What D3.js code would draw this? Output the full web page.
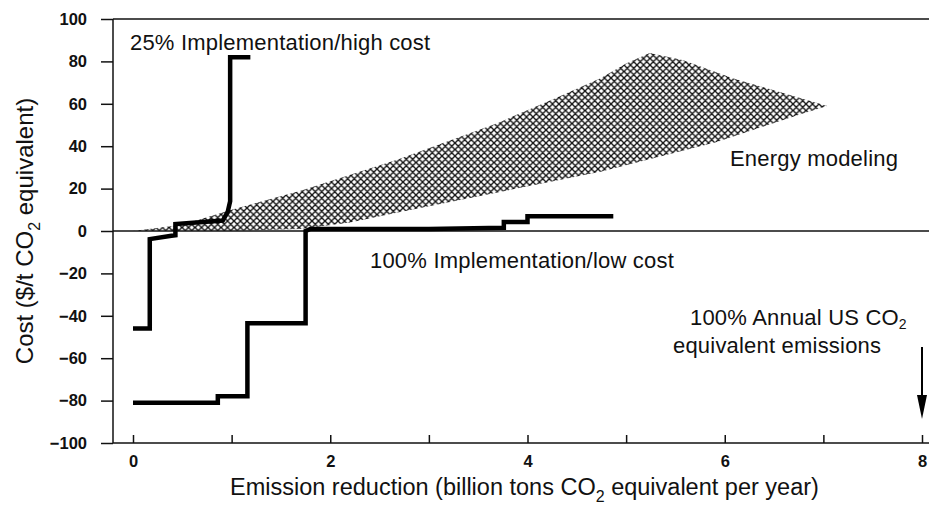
<!DOCTYPE html>
<html>
<head>
<meta charset="utf-8">
<script src="https://cdn.jsdelivr.net/npm/d3@7"></script>
<style>
  html, body { margin: 0; padding: 0; background: #fff; }
  svg { display: block; font-family: "Liberation Sans", Arial, Helvetica, sans-serif; }
</style>
</head>
<body>
<svg id="chart" width="931" height="506"></svg>
<script>
// Cost curves for CO2-equivalent emission reduction (corner points of each step curve)
const lowCostX  = [0, 0.86, 0.86, 1.16, 1.16, 1.75, 1.75, 1.8, 3.0, 3.76, 3.76, 4.0, 4.0, 4.87];
const lowCostY  = [-81, -81, -78, -78, -43.5, -43.5, 0, 1, 1, 1.5, 4.3, 4.3, 7, 7];

const highCostX = [0, 0.17, 0.17, 0.39, 0.43, 0.43, 0.91, 0.96, 0.985, 0.985, 1.19];
const highCostY = [-46, -46, -3.8, -2.2, -2, 3.3, 4.9, 9, 14, 82, 82];

// Energy-modeling band: upper and lower edges
const energyUpperX = [0, 0.5, 1.0, 1.7, 2.7, 3.7, 4.3, 4.74, 5.0, 5.24, 5.58, 6.08, 6.6, 7.04];
const energyUpperY = [0, 3, 10, 19, 34, 51, 63, 72, 79, 84, 80.5, 72, 65, 59];
const energyLowerX = [0, 1.0, 1.7, 2.2, 2.71, 3.72, 4.74, 5.92, 6.76, 7.04];
const energyLowerY = [0, 0, 1, 4, 9, 18.4, 28, 42, 55, 59];

// Axis ticks
const xTicks = [0, 1, 2, 3, 4, 5, 6, 7, 8];
const xTickLabels = ["0", "", "2", "", "4", "", "6", "", "8"];
const yTicks = [-100, -80, -60, -40, -20, 0, 20, 40, 60, 80, 100];

// Total annual US emissions marker
const usTotalEmissions = 8;

const svg = d3.select("#chart");

const x = d3.scaleLinear().domain([0, 8]).range([133, 922]);
const y = d3.scaleLinear().domain([-100, 100]).range([443, 19]);

const axisLeftX = 113, axisRightX = 929;

// cross-hatch pattern for the energy-modeling band
const defs = svg.append("defs");
const pat = defs.append("pattern")
  .attr("id", "crosshatch")
  .attr("patternUnits", "userSpaceOnUse")
  .attr("width", 6.5).attr("height", 6.5);
pat.append("path")
  .attr("d", "M0,0L6.5,6.5M6.5,0L0,6.5M-1,5.5L1,7.5M5.5,-1L7.5,1M-1,1L1,-1M5.5,7.5L7.5,5.5")
  .attr("stroke", "#111")
  .attr("stroke-width", 1.35)
  .attr("fill", "none");

const bandPts = energyUpperX.map((d, i) => [d, energyUpperY[i]])
  .concat(energyLowerX.map((d, i) => [d, energyLowerY[i]]).reverse());

svg.append("path")
  .datum(bandPts)
  .attr("d", d3.line().x(d => x(d[0])).y(d => y(d[1])).curve(d3.curveLinearClosed))
  .attr("fill", "url(#crosshatch)")
  .attr("stroke", "none");

// frame: top rule, zero line
svg.append("line")
  .attr("x1", axisLeftX).attr("x2", axisRightX)
  .attr("y1", y(100)).attr("y2", y(100))
  .attr("stroke", "#111").attr("stroke-width", 1.5);
svg.append("line")
  .attr("x1", axisLeftX).attr("x2", axisRightX)
  .attr("y1", y(0)).attr("y2", y(0))
  .attr("stroke", "#111").attr("stroke-width", 1.5);

// y axis
const yAxis = svg.append("g")
  .attr("transform", `translate(${axisLeftX},0)`)
  .call(d3.axisLeft(y).tickValues(yTicks).tickSize(12).tickPadding(14).tickFormat(d3.format("d")));
yAxis.select(".domain").remove();
yAxis.append("line")
  .attr("x1", 0).attr("x2", 0)
  .attr("y1", y(100)).attr("y2", y(-100))
  .attr("stroke", "#111").attr("stroke-width", 1.5);
yAxis.selectAll(".tick line").attr("stroke", "#111").attr("stroke-width", 1.5);
yAxis.selectAll(".tick text")
  .attr("fill", "#111")
  .style("font-size", "16.5px").style("font-weight", "bold")
  .style("font-family", "'Liberation Sans', Arial, sans-serif");

// x axis
const xAxis = svg.append("g")
  .attr("transform", `translate(0,${y(-100)})`)
  .call(d3.axisBottom(x).tickValues(xTicks).tickSize(-8).tickPadding(12)
    .tickFormat((d, i) => xTickLabels[i]));
xAxis.select(".domain").remove();
xAxis.append("line")
  .attr("x1", axisLeftX).attr("x2", axisRightX)
  .attr("y1", 0).attr("y2", 0)
  .attr("stroke", "#111").attr("stroke-width", 1.5);
xAxis.selectAll(".tick line").attr("stroke", "#111").attr("stroke-width", 1.5);
xAxis.selectAll(".tick text")
  .attr("fill", "#111")
  .style("font-size", "16.5px").style("font-weight", "bold")
  .style("font-family", "'Liberation Sans', Arial, sans-serif");

// step cost curves
const stepLine = d3.line().x(d => x(d[0])).y(d => y(d[1]));
function drawCurve(xs, ys) {
  svg.append("path")
    .datum(xs.map((d, i) => [d, ys[i]]))
    .attr("d", stepLine)
    .attr("fill", "none")
    .attr("stroke", "#000")
    .attr("stroke-width", 4.5)
    .attr("stroke-linejoin", "miter")
    .attr("stroke-linecap", "butt");
}
drawCurve(lowCostX, lowCostY);
drawCurve(highCostX, highCostY);

// annotations
const lblSize = "22px";
function label(tx, ty, str) {
  return svg.append("text")
    .attr("x", tx).attr("y", ty)
    .attr("fill", "#111")
    .style("font-size", lblSize)
    .style("letter-spacing", "0.2px")
    .text(str);
}
label(130, 50, "25% Implementation/high cost");
label(370, 268, "100% Implementation/low cost");
label(730, 166, "Energy modeling");

const t1 = svg.append("text").attr("x", 690).attr("y", 325)
  .attr("fill", "#111").style("font-size", lblSize).style("letter-spacing", "0.2px");
t1.append("tspan").text("100% Annual US CO");
t1.append("tspan").attr("dy", 4).style("font-size", "14px").text("2");
label(673, 353, "equivalent emissions");

// arrow at total annual emissions
const ax = x(usTotalEmissions);
svg.append("line")
  .attr("x1", ax).attr("x2", ax)
  .attr("y1", 347).attr("y2", 400)
  .attr("stroke", "#000").attr("stroke-width", 2);
svg.append("path")
  .attr("d", `M${ax - 5},395L${ax + 5},395L${ax},419Z`)
  .attr("fill", "#000");

// axis titles
const xt = svg.append("text")
  .attr("x", 230).attr("y", 495)
  .attr("fill", "#111").style("font-size", "23.5px");
xt.append("tspan").text("Emission reduction (billion tons CO");
xt.append("tspan").attr("dy", 7).style("font-size", "16px").text("2");
xt.append("tspan").attr("dy", -7).text(" equivalent per year)");

const yt = svg.append("text")
  .attr("transform", `translate(33,${(y(100) + y(-100)) / 2}) rotate(-90)`)
  .attr("text-anchor", "middle")
  .attr("fill", "#111").style("font-size", "24px");
yt.append("tspan").text("Cost ($/t CO");
yt.append("tspan").attr("dy", 7).style("font-size", "16px").text("2");
yt.append("tspan").attr("dy", -7).text(" equivalent)");
</script>
</body>
</html>
